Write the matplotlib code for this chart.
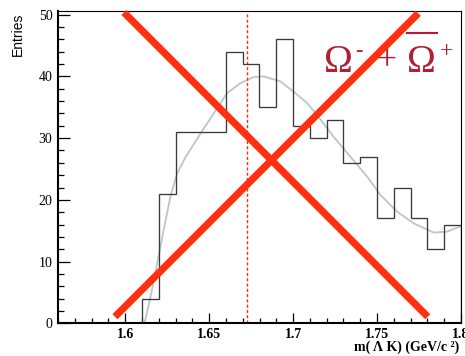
import matplotlib
matplotlib.use("Agg")
import matplotlib.pyplot as plt
from matplotlib.lines import Line2D
from matplotlib.ticker import MultipleLocator, FixedLocator

plt.rcParams["lines.scale_dashes"] = False

# Invariant-mass histogram, 10 MeV bins
bin_edges = [1.61, 1.62, 1.63, 1.64, 1.65, 1.66, 1.67, 1.68, 1.69, 1.70,
             1.71, 1.72, 1.73, 1.74, 1.75, 1.76, 1.77, 1.78, 1.79, 1.80]
counts = [4, 21, 31, 31, 31, 44, 42, 35, 46, 32,
          30, 33, 26, 27, 17, 22, 17, 12, 16]

# Fitted signal + background curve (sampled)
fit_x = [1.6115, 1.6151, 1.6190, 1.6230, 1.6270, 1.6310, 1.6359, 1.6408,
         1.6450, 1.6527, 1.6607, 1.6686, 1.6765, 1.6825, 1.6924, 1.7004,
         1.7083, 1.7150, 1.7242, 1.7341, 1.7440, 1.7520, 1.7619, 1.7718,
         1.7837, 1.7917, 1.7996, 1.8050]
fit_y = [0.0, 4.3, 9.6, 15.2, 20.6, 24.3, 26.9, 29.0,
         30.8, 34.0, 37.3, 38.9, 39.9, 40.0, 39.2, 37.5,
         35.7, 33.5, 30.2, 27.0, 23.8, 20.8, 18.1, 16.2,
         14.7, 14.85, 15.7, 16.4]

omega_mass = 1.6725

x_range = (1.56, 1.80)
y_range = (0, 50.6)
y_ticks = [0, 10, 20, 30, 40, 50]
x_ticks = [1.6, 1.65, 1.7, 1.75, 1.8]
x_tick_labels = ["1.6", "1.65", "1.7", "1.75", "1.8"]

W, H = 465, 356
fig = plt.figure(figsize=(W / 100, H / 100), dpi=100)
ax = fig.add_axes([58 / W, 1 - 323.3 / H, 403 / W, 312.3 / H])


def fig_xy(px, py):
    return px / W, 1 - py / H


ax.stairs(counts, bin_edges, baseline=0, fill=False,
          color="#3a3a3a", linewidth=0.95, zorder=3)
ax.plot(fit_x, fit_y, color="#b7c6d0", linewidth=1.3, zorder=2)
ax.axvline(omega_mass, color="#ff2a10", linewidth=1.0,
           dashes=(2.2, 1.6), zorder=2)

ax.set_xlim(*x_range)
ax.set_ylim(*y_range)

ax.yaxis.set_major_locator(FixedLocator(y_ticks))
ax.yaxis.set_minor_locator(MultipleLocator(2))
ax.xaxis.set_major_locator(FixedLocator(x_ticks))
ax.xaxis.set_minor_locator(MultipleLocator(0.01))
ax.set_xticklabels(x_tick_labels)

ax.tick_params(axis="y", which="major", direction="in", length=8.6,
               width=0.9, pad=4, labelsize=10)
ax.tick_params(axis="y", which="minor", direction="in", length=4.3, width=0.9)
ax.tick_params(axis="x", which="major", direction="in", length=7.2,
               width=0.9, pad=3.5, labelsize=10)
ax.tick_params(axis="x", which="minor", direction="in", length=3.6, width=0.9)

for lbl in ax.get_yticklabels():
    lbl.set_fontfamily("Liberation Serif")
for lbl in ax.get_xticklabels():
    lbl.set_fontfamily("Liberation Serif")
    lbl.set_fontweight("bold")

ax.spines["left"].set_linewidth(1.5)
ax.spines["bottom"].set_linewidth(1.5)
ax.spines["top"].set_linewidth(0.8)
ax.spines["right"].set_linewidth(0.8)

# Axis titles
fig.text(*fig_xy(18, 34), "Entries", rotation=90, ha="center", va="center",
         family="Liberation Sans", fontsize=10)
fig.text(*fig_xy(459, 347), "m( \u039b K) (GeV/c \u00b2)", ha="right",
         va="center", family="Liberation Serif", fontweight="bold",
         fontsize=10)

# Particle label
label_color = "#b21f35"
fig.text(*fig_xy(324, 71.7), "\u03a9", ha="left", va="baseline",
         family="Liberation Serif", fontsize=28, color=label_color)
fig.text(*fig_xy(359, 52), "-", ha="center", va="center",
         family="Liberation Serif", fontsize=16, color=label_color)
fig.text(*fig_xy(386.5, 61.5), "+", ha="center", va="center",
         family="Liberation Serif", fontsize=26, color=label_color)
fig.text(*fig_xy(406.5, 71.7), "\u03a9", ha="left", va="baseline",
         family="Liberation Serif", fontsize=28, color=label_color)
fig.text(*fig_xy(446, 52), "+", ha="center", va="center",
         family="Liberation Serif", fontsize=17, color=label_color)
ox0, oy = fig_xy(406.7, 32.7)
ox1, _ = fig_xy(436.7, 32.7)
fig.add_artist(Line2D([ox0, ox1], [oy, oy], transform=fig.transFigure,
                      color=label_color, linewidth=1.5))

# Cross-out overlay (axes fractions)
cross_a = ([0.1638, 0.9174], [0.9952, 0.0211])
cross_b = ([0.1414, 0.8940], [0.0211, 0.9926])
for xs, ys in (cross_a, cross_b):
    ax.plot(xs, ys, transform=ax.transAxes, color="#ff3010", linewidth=5.2,
            solid_capstyle="butt", clip_on=False, zorder=10)

fig.savefig("out.png", dpi=100)
